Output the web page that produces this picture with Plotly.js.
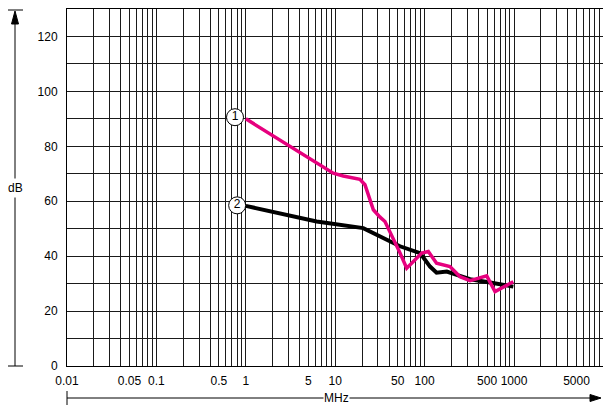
<!DOCTYPE html>
<html>
<head>
<meta charset="utf-8">
<script src="https://cdn.plot.ly/plotly-3.0.1.min.js"></script>
<style>html,body{margin:0;padding:0;background:#fff;}#chart{width:603px;height:408px;}</style>
</head>
<body>
<div id="chart"></div>
<script>
// Curve 1 (magenta)
const freq1 = [1, 9.5, 12.3, 18.9, 21.5, 26.7, 31.7, 36, 53, 63, 92.8, 110, 136, 192, 249, 322, 495, 613, 982];
const db1   = [90, 70.2, 69.2, 68.0, 66, 56.9, 54.2, 52.6, 41.2, 35.6, 41.1, 41.7, 37.4, 36.2, 32.5, 31.1, 32.8, 27.1, 30.7];
// Curve 2 (black)
const freq2 = [1, 6.2, 20.6, 26.7, 53, 89, 115, 136, 177, 229, 322, 540, 982];
const db2   = [58.3, 52.6, 50.2, 48.4, 43.6, 41.1, 36.2, 34, 34.4, 33.2, 31.6, 30.4, 28.9];
// Curve labels
const labelFreq = [0.757, 0.8];
const labelDb = [90.6, 58.5];
const labelText = ['1', '2'];
// Axis ticks
const xTickVals = [];
const xTickText = [];
const xLabeled = {'0.01':'0.01','0.05':'0.05','0.1':'0.1','0.5':'0.5','1':'1','5':'5','10':'10','50':'50','100':'100','500':'500','1000':'1000','5000':'5000'};
const decades = [0.01, 0.1, 1, 10, 100, 1000];
decades.forEach(d => { for (let m = 1; m <= 9; m++) { const v = +(d * m).toPrecision(3); xTickVals.push(v); xTickText.push(xLabeled[String(v)] || ''); } });
const yTickVals = [0,10,20,30,40,50,60,70,80,90,100,110,120,130];
const yTickText = ['0','','20','','40','','60','','80','','100','','120',''];

const L = 67, T = 9, W = 603, H = 408, B = 42, R = 0;
const pw = W - L - R, ph = H - T - B;
const px = x => (x - L) / pw;          // pixel -> paper x
const py = y => (H - B - y) / ph;      // pixel -> paper y

const traces = [
  {x: freq2, y: db2, mode: 'lines', line: {color: '#000000', width: 4}, hoverinfo: 'skip'},
  {x: freq1, y: db1, mode: 'lines', line: {color: '#e6007e', width: 3.5}, hoverinfo: 'skip'},
  {x: labelFreq, y: labelDb, mode: 'markers+text', text: labelText, textposition: 'middle center',
   textfont: {family: 'Liberation Sans, Arial, sans-serif', size: 12, color: '#000'},
   marker: {symbol: 'circle', size: 17, color: '#ffffff', line: {color: '#000', width: 1}}, hoverinfo: 'skip'}
];

const font = {family: 'Liberation Sans, Arial, sans-serif', size: 12, color: '#000'};
const layout = {
  width: W, height: H,
  margin: {l: L, r: R, t: T, b: B, pad: 0},
  showlegend: false,
  paper_bgcolor: '#fff', plot_bgcolor: '#fff',
  font: font,
  xaxis: {type: 'log', range: [-2, 3.995], tickvals: xTickVals, ticktext: xTickText,
    showgrid: true, gridcolor: '#1a1a1a', gridwidth: 1, zeroline: false,
    showline: true, linecolor: '#000', linewidth: 1, mirror: true, ticks: '', ticklabelstandoff: 4,
    tickfont: font},
  yaxis: {range: [0, 130], tickvals: yTickVals, ticktext: yTickText,
    showgrid: true, gridcolor: '#1a1a1a', gridwidth: 1, zeroline: false,
    showline: true, linecolor: '#000', linewidth: 1, mirror: true, ticks: '', ticklabelstandoff: 6,
    tickfont: font},
  shapes: [
    // left dB arrow
    {type: 'line', xref: 'paper', yref: 'paper', x0: px(15), x1: px(15), y0: py(366), y1: py(20), line: {color: '#000', width: 1}},
    {type: 'line', xref: 'paper', yref: 'paper', x0: px(8), x1: px(23), y0: py(10), y1: py(10), line: {color: '#000', width: 1}},
    {type: 'line', xref: 'paper', yref: 'paper', x0: px(8), x1: px(23), y0: py(366), y1: py(366), line: {color: '#000', width: 1}},
    {type: 'path', xref: 'paper', yref: 'paper', fillcolor: '#000', line: {color: '#000', width: 1},
     path: `M ${px(15)} ${py(11)} L ${px(11.5)} ${py(24)} L ${px(18.5)} ${py(24)} Z`},
    // bottom MHz arrow
    {type: 'line', xref: 'paper', yref: 'paper', x0: px(67), x1: px(592), y0: py(398), y1: py(398), line: {color: '#000', width: 1}},
    {type: 'line', xref: 'paper', yref: 'paper', x0: px(67), x1: px(67), y0: py(391), y1: py(405), line: {color: '#000', width: 1}},
    {type: 'path', xref: 'paper', yref: 'paper', fillcolor: '#000', line: {color: '#000', width: 1},
     path: `M ${px(601)} ${py(398)} L ${px(590)} ${py(394.5)} L ${px(590)} ${py(401.5)} Z`}
  ],
  annotations: [
    {text: 'dB', xref: 'paper', yref: 'paper', x: px(15), y: py(188), showarrow: false, bgcolor: '#fff',
     font: font, xanchor: 'center', yanchor: 'middle', borderpad: 2},
    {text: 'MHz', xref: 'paper', yref: 'paper', x: px(336), y: py(398), showarrow: false, bgcolor: '#fff',
     font: font, xanchor: 'center', yanchor: 'middle', borderpad: 0}
  ]
};

Plotly.newPlot('chart', traces, layout, {staticPlot: true, displayModeBar: false});
</script>
</body>
</html>
